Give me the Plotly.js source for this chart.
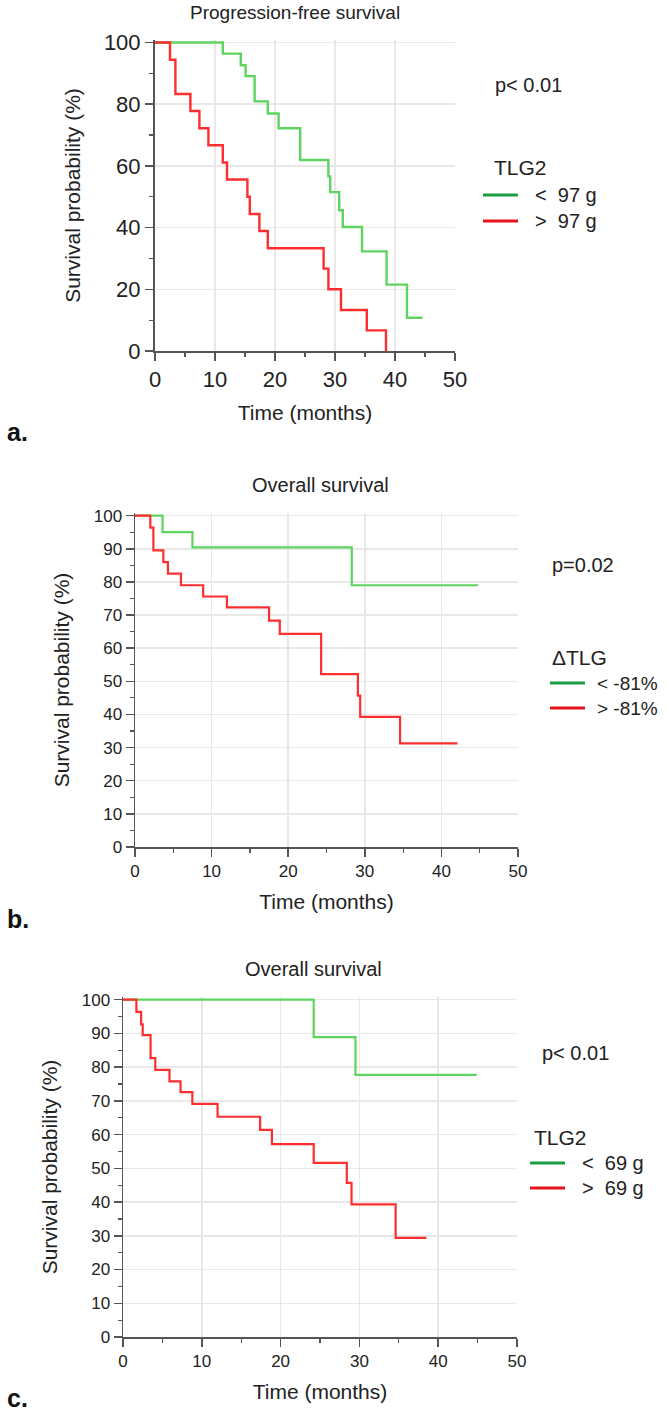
<!DOCTYPE html>
<html>
<head>
<meta charset="utf-8">
<script src="https://cdn.plot.ly/plotly-3.0.1.min.js"></script>
<style>html,body{margin:0;padding:0;background:#fff;}#chart{width:666px;height:1411px;}</style>
</head>
<body>
<div id="chart"></div>
<script>
// ---------- data ----------
const panelTitles = ["Progression-free survival", "Overall survival", "Overall survival"];
const pValues = ["p< 0.01", "p=0.02", "p< 0.01"];
const legendTitles = ["TLG2", "ΔTLG", "TLG2"];
const lowLabels = ["<  97 g", "< -81%", "<  69 g"];
const highLabels = [">  97 g", "> -81%", ">  69 g"];
const panelLetters = ["a.", "b.", "c."];
const xTitle = "Time (months)";
const yTitle = "Survival probability (%)";

// Panel a – progression-free survival, TLG2
const aLowTime = [0, 11.3, 14.3, 15.1, 16.6, 18.8, 20.6, 24.2, 28.9, 29.2, 30.7, 31.3, 34.5, 38.6, 42.0, 44.6];
const aLowSurv = [100, 96.4, 92.6, 89.1, 80.9, 77.0, 72.2, 61.9, 56.6, 51.5, 45.6, 40.2, 32.3, 21.5, 10.8, 10.8];
const aHighTime = [0, 2.5, 3.4, 5.9, 7.4, 8.9, 11.3, 12.0, 15.4, 15.8, 17.4, 18.8, 28.1, 28.9, 31.0, 35.3, 38.5];
const aHighSurv = [100, 94.4, 83.3, 77.8, 72.2, 66.7, 61.1, 55.6, 50.0, 44.4, 38.9, 33.3, 26.7, 20.0, 13.3, 6.7, 0];

// Panel b – overall survival, ΔTLG
const bLowTime = [0, 3.6, 7.5, 28.3, 44.8];
const bLowSurv = [100, 95.0, 90.4, 79.0, 79.0];
const bHighTime = [0, 2.0, 2.4, 3.7, 4.3, 6.0, 8.9, 12.0, 17.5, 18.9, 24.3, 29.1, 29.4, 34.6, 42.1];
const bHighSurv = [100, 96.4, 89.5, 86.0, 82.5, 79.0, 75.6, 72.3, 68.3, 64.3, 52.2, 45.7, 39.3, 31.3, 31.3];

// Panel c – overall survival, TLG2
const cLowTime = [0, 24.2, 29.5, 44.9];
const cLowSurv = [100, 88.9, 77.7, 77.7];
const cHighTime = [0, 1.7, 2.3, 2.5, 3.5, 4.1, 5.9, 7.3, 8.8, 12.0, 17.4, 18.9, 24.2, 28.4, 29.0, 34.6, 38.5];
const cHighSurv = [100, 96.4, 92.7, 89.5, 82.7, 79.2, 75.8, 72.6, 69.1, 65.3, 61.4, 57.2, 51.6, 45.7, 39.3, 29.4, 29.4];

// ---------- layout helpers ----------
const W = 666, H = 1411;
const px = v => v / W;
const py = v => 1 - v / H;

const curveGreen = '#5fd35f', curveRed = '#ff2e2e';
const legGreen = '#1c9e45', legRed = '#e8141c';

// plot boxes in pixels
const boxes = [
  {l:155, r:455, t:40, b:351, ydt:20, ymin:10, tick:22, axw:2, tc:295, tfs:19},
  {l:135, r:518, t:513, b:847, ydt:10, ymin:5, tick:17, axw:1.5, tc:320, tfs:20},
  {l:123, r:517, t:997, b:1337, ydt:10, ymin:5, tick:17, axw:1.5, tc:313, tfs:20}
];

const series = [
  [aLowTime, aLowSurv, aHighTime, aHighSurv],
  [bLowTime, bLowSurv, bHighTime, bHighSurv],
  [cLowTime, cLowSurv, cHighTime, cHighSurv]
];

const traces = [];
const layout = {
  width: W, height: H,
  margin: {l:0, r:0, t:0, b:0},
  paper_bgcolor: '#fff', plot_bgcolor: '#fff',
  showlegend: false,
  font: {family: 'Liberation Sans, Arial, sans-serif', color: '#222'},
  annotations: [], shapes: []
};

boxes.forEach((b, i) => {
  const s = i === 0 ? '' : String(i + 1);
  const xa = 'x' + s, ya = 'y' + s;
  const [lt, ls, ht, hs] = series[i];
  const lw = i === 0 ? 2.4 : 2.2;
  traces.push({x: lt, y: ls, xaxis: xa, yaxis: ya, mode: 'lines', line: {shape: 'hv', color: curveGreen, width: lw}, name: lowLabels[i]});
  traces.push({x: ht, y: hs, xaxis: xa, yaxis: ya, mode: 'lines', line: {shape: 'hv', color: curveRed, width: lw}, name: highLabels[i]});

  const axCommon = {
    showline: true, linecolor: '#555', linewidth: b.axw, mirror: false,
    ticks: 'outside', ticklen: 8, tickwidth: 1.5, tickcolor: '#555',
    showgrid: true, gridcolor: '#e8e8e8', gridwidth: 1.5,
    zeroline: false, fixedrange: true,
    tickfont: {size: b.tick, color: '#222'}
  };
  layout['xaxis' + s] = Object.assign({}, axCommon, {
    domain: [px(b.l), px(b.r)], anchor: ya, range: [0, 50], dtick: 10, tick0: 0,
    minor: {dtick: 5, ticklen: 4, tickcolor: '#555', tickwidth: 1.2, showgrid: false},
    title: {text: xTitle, font: {size: 21, color: '#222'}, standoff: 14}
  });
  layout['yaxis' + s] = Object.assign({}, axCommon, {
    domain: [py(b.b), py(b.t)], anchor: xa, range: [0, 100.8], dtick: b.ydt, tick0: 0,
    minor: {dtick: b.ymin, ticklen: 4, tickcolor: '#555', tickwidth: 1.2, showgrid: false},
    title: {text: yTitle, font: {size: 21, color: '#222'}, standoff: 18}
  });

  // panel title
  layout.annotations.push({text: panelTitles[i], xref: 'paper', yref: 'paper',
    x: px(b.tc), y: py(b.t - 15), xanchor: 'center', yanchor: 'bottom',
    showarrow: false, font: {size: b.tfs, color: '#222'}});
});

// legends, p-values and panel letters (pixel positions)
const legPos = [
  {px: 493, py: 85, tx: 492, ty: 168, lx: 483, ly1: 195, ly2: 221, fs: 20, gap: 50},
  {px: 550, py: 565, tx: 550, ty: 657, lx: 550, ly1: 683, ly2: 708, fs: 19, gap: 45},
  {px: 540, py: 1053, tx: 532, ty: 1137, lx: 530, ly1: 1163, ly2: 1188, fs: 20, gap: 50}
];
const letterY = [432, 919, 1398];

legPos.forEach((p, i) => {
  const A = layout.annotations;
  A.push({text: pValues[i], xref:'paper', yref:'paper', x: px(p.px), y: py(p.py), xanchor:'left', yanchor:'middle', showarrow:false, font:{size:20, color:'#222'}});
  A.push({text: legendTitles[i], xref:'paper', yref:'paper', x: px(p.tx), y: py(p.ty), xanchor:'left', yanchor:'middle', showarrow:false, font:{size:21, color:'#222'}});
  A.push({text: lowLabels[i], xref:'paper', yref:'paper', x: px(p.lx + p.gap), y: py(p.ly1), xanchor:'left', yanchor:'middle', showarrow:false, font:{size:p.fs, color:'#222'}});
  A.push({text: highLabels[i], xref:'paper', yref:'paper', x: px(p.lx + p.gap), y: py(p.ly2), xanchor:'left', yanchor:'middle', showarrow:false, font:{size:p.fs, color:'#222'}});
  layout.shapes.push({type:'line', xref:'paper', yref:'paper', x0: px(p.lx), x1: px(p.lx + 35), y0: py(p.ly1), y1: py(p.ly1), line:{color: legGreen, width: 3}});
  layout.shapes.push({type:'line', xref:'paper', yref:'paper', x0: px(p.lx), x1: px(p.lx + 35), y0: py(p.ly2), y1: py(p.ly2), line:{color: legRed, width: 3}});
  A.push({text: '<b>' + panelLetters[i] + '</b>', xref:'paper', yref:'paper', x: px(5), y: py(letterY[i]), xanchor:'left', yanchor:'middle', showarrow:false, font:{size:25, color:'#111'}});
});

Plotly.newPlot('chart', traces, layout, {staticPlot: true, displayModeBar: false});
</script>
</body>
</html>
